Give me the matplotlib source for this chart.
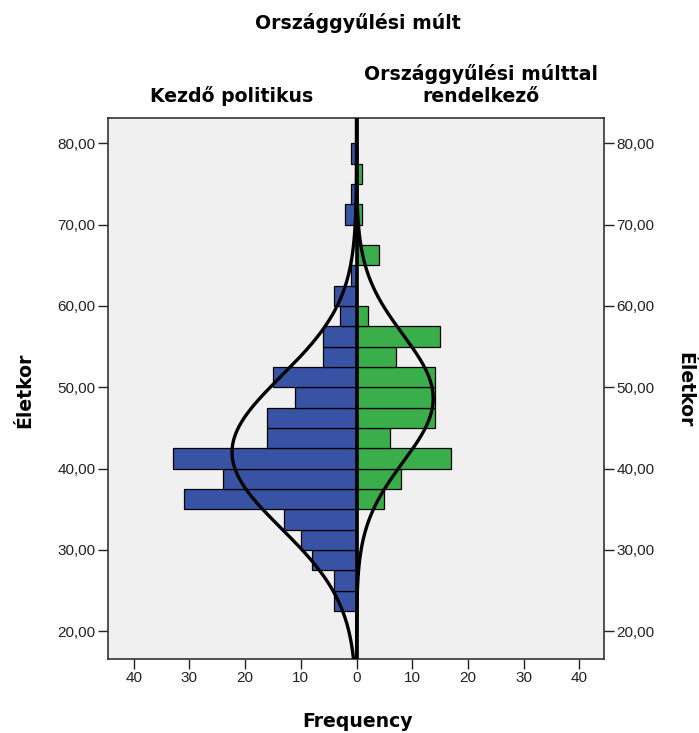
import numpy as np
import matplotlib.pyplot as plt

# bin lower edges (age, 2.5-year bins)
bin_starts = [22.5, 25, 27.5, 30, 32.5, 35, 37.5, 40, 42.5, 45, 47.5, 50,
              52.5, 55, 57.5, 60, 62.5, 65, 67.5, 70, 72.5, 75, 77.5]
bin_width = 2.5

# Kezdő politikus
kezdo = [4, 4, 8, 10, 13, 31, 24, 33, 16, 16, 11, 15,
         6, 6, 3, 4, 1, 0, 0, 2, 1, 0, 1]
# Országgyűlési múlttal rendelkező
multtal = [0, 0, 0, 0, 0, 5, 8, 17, 6, 14, 14, 14,
           7, 15, 2, 0, 0, 4, 0, 1, 0, 1, 0]

x_ticks = [-40, -30, -20, -10, 0, 10, 20, 30, 40]
y_ticks = [20, 30, 40, 50, 60, 70, 80]

blue = '#3953a4'
green = '#3aae4a'

plt.rcParams['font.family'] = ['Liberation Sans', 'DejaVu Sans']
bold = dict(family='DejaVu Sans', fontweight='bold', fontsize=13.6)

W, H = 699, 733
fig = plt.figure(figsize=(W / 100, H / 100), dpi=100)
ax = fig.add_axes([108/W, 1 - 659/H, (604-108)/W, (659-118)/H])
ax.set_facecolor('#f0f0f0')

starts = np.array(bin_starts)
ax.barh(starts, -np.array(kezdo), height=bin_width, align='edge',
        color=blue, edgecolor='black', linewidth=0.9, zorder=2)
ax.barh(starts, multtal, height=bin_width, align='edge',
        color=green, edgecolor='black', linewidth=0.9, zorder=2)

# normal curves fitted from the binned data
yy = np.linspace(16.6, 83.1, 400)
mids = starts + bin_width / 2
for counts, sign in [(np.array(kezdo), -1), (np.array(multtal), 1)]:
    n = counts.sum()
    mu = (counts * mids).sum() / n
    sd = np.sqrt((counts * (mids - mu) ** 2).sum() / (n - 1))
    dens = n * bin_width * np.exp(-0.5 * ((yy - mu) / sd) ** 2) / (sd * np.sqrt(2 * np.pi))
    ax.plot(sign * dens, yy, color='black', linewidth=2.4, zorder=3)

ax.axvline(0, color='black', linewidth=2.6, zorder=4)

ax.set_xlim(-44.6, 44.4)
ax.set_ylim(16.6, 83.1)
ax.set_xticks(x_ticks)
ax.set_xticklabels([str(abs(v)) for v in x_ticks])
ax.set_yticks(y_ticks)
ax.set_yticklabels([f'{v:.2f}'.replace('.', ',') for v in y_ticks])
ax.tick_params(axis='both', direction='out', length=7, width=1, labelsize=11,
               colors='#222222', pad=2)
ax.tick_params(axis='y', right=True, labelright=True)
for s in ax.spines.values():
    s.set_linewidth(1.2)
    s.set_color('#333333')

def fig_text(x, y, s, **kw):
    fig.text(x / W, 1 - y / H, s, **kw)

fig_text(25, 390, 'Életkor', rotation=90, ha='center', va='center', **bold)
fig_text(685, 390, 'Életkor', rotation=-90, ha='center', va='center', **bold)
fig_text(357, 727, 'Frequency', ha='center', va='baseline', **bold)

fig_text(358, 29, 'Országgyűlési múlt', ha='center', va='baseline', **bold)
fig_text(232, 102, 'Kezdő politikus', ha='center', va='baseline', **bold)
fig_text(481, 80, 'Országgyűlési múlttal', ha='center', va='baseline', **bold)
fig_text(481, 102, 'rendelkező', ha='center', va='baseline', **bold)

fig.savefig('out.png', dpi=100, facecolor='white')
